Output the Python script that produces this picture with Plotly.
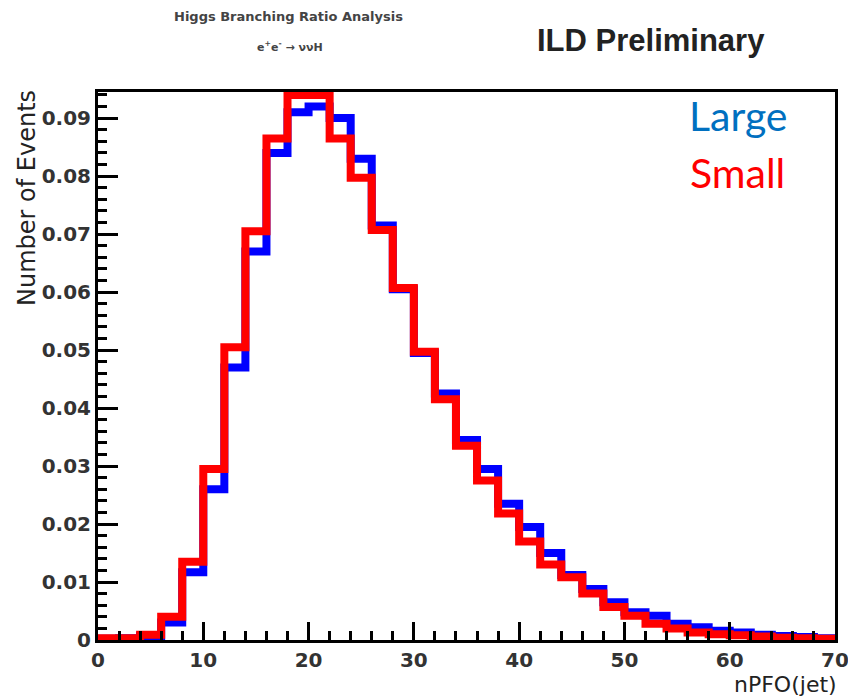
import plotly.graph_objects as go

# Bin edges of nPFO(jet) histogram (width 2)
bin_edges = [0, 2, 4, 6, 8, 10, 12, 14, 16, 18, 20, 22, 24, 26, 28, 30, 32, 34,
             36, 38, 40, 42, 44, 46, 48, 50, 52, 54, 56, 58, 60, 62, 64, 66, 68, 70]

large_vals = [0.0002, 0.0003, 0.0007, 0.0030, 0.0117, 0.0260, 0.0470, 0.0670,
              0.0840, 0.0910, 0.0920, 0.0900, 0.0830, 0.0715, 0.0605, 0.0495,
              0.0425, 0.0345, 0.0295, 0.0235, 0.0195, 0.0150, 0.0112, 0.0088,
              0.0065, 0.0048, 0.0042, 0.0028, 0.0022, 0.0016, 0.0013, 0.0009,
              0.0007, 0.0005, 0.0003]

small_vals = [0.0003, 0.0003, 0.0009, 0.0040, 0.0135, 0.0295, 0.0505, 0.0705,
              0.0865, 0.0940, 0.0940, 0.0865, 0.0797, 0.0707, 0.0607, 0.0497,
              0.0415, 0.0335, 0.0275, 0.0218, 0.0170, 0.0130, 0.0108, 0.0080,
              0.0057, 0.0042, 0.0028, 0.0020, 0.0013, 0.0010, 0.0008, 0.0006,
              0.0004, 0.0003, 0.0002]

x_ticks = [0, 10, 20, 30, 40, 50, 60, 70]
y_ticks = [0, 0.01, 0.02, 0.03, 0.04, 0.05, 0.06, 0.07, 0.08, 0.09]

ROOT_FONT = "DejaVu Sans"

fig = go.Figure()
fig.add_trace(go.Scatter(
    x=bin_edges, y=large_vals + [large_vals[-1]],
    mode="lines", line=dict(shape="hv", color="#0000FF", width=8),
    name="Large", showlegend=False))
fig.add_trace(go.Scatter(
    x=bin_edges, y=small_vals + [small_vals[-1]],
    mode="lines", line=dict(shape="hv", color="#FF0000", width=8),
    name="Small", showlegend=False))

axis_common = dict(
    showgrid=False, zeroline=False, automargin=False,
    showline=True, linecolor="black", linewidth=3, mirror=True,
    ticks="inside", tickcolor="black", tickwidth=3,
    ticklabeloverflow="allow",
    tickfont=dict(family=ROOT_FONT, size=20, color="#333333", weight="bold"),
)

fig.update_xaxes(
    range=[0, 70], tickmode="array", tickvals=x_ticks,
    ticktext=[str(v) for v in x_ticks], ticklen=18,
    minor=dict(dtick=2, ticks="inside", ticklen=9, tickcolor="black", tickwidth=3),
    **axis_common)
fig.update_yaxes(
    range=[0, 0.0945], tickmode="array", tickvals=y_ticks,
    ticktext=["0"] + [f"{v:.2f}" for v in y_ticks[1:]], ticklen=20,
    minor=dict(dtick=0.002, ticks="inside", ticklen=9, tickcolor="black", tickwidth=3),
    **axis_common)

PW = 737.0
PH = 548.0


def px(xp):
    return (xp - 98) / PW


def py(yp):
    return (640 - yp) / PH


annotations = [
    dict(text="Number of Events", xref="paper", yref="paper", x=px(27), y=py(88),
         xanchor="center", yanchor="top", textangle=-90, showarrow=False,
         font=dict(family=ROOT_FONT, size=24, color="#222222")),
    dict(text="nPFO(jet)", xref="paper", yref="paper", x=px(839), y=py(684),
         xanchor="right", yanchor="middle", showarrow=False,
         font=dict(family=ROOT_FONT, size=22, color="#222222")),
    dict(text="Higgs Branching Ratio Analysis", xref="paper", yref="paper",
         x=px(288), y=py(17), xanchor="center", yanchor="middle",
         showarrow=False, font=dict(family=ROOT_FONT, size=13, color="#444444", weight="bold")),
    dict(text="e<sup>+</sup>e<sup>-</sup> → ννH", xref="paper", yref="paper",
         x=px(290), y=py(47), xanchor="center", yanchor="middle",
         showarrow=False, font=dict(family=ROOT_FONT, size=11, color="#444444", weight="bold")),
    dict(text="ILD Preliminary", xref="paper", yref="paper",
         x=px(651), y=py(40), xanchor="center", yanchor="middle",
         showarrow=False, font=dict(family="Liberation Sans", size=31, color="#222222", weight="bold")),
    dict(text="Large", xref="paper", yref="paper",
         x=px(738), y=py(116), xanchor="center", yanchor="middle",
         showarrow=False, font=dict(family="Lato", size=41, color="#0070C0")),
    dict(text="Small", xref="paper", yref="paper",
         x=px(737), y=py(172), xanchor="center", yanchor="middle",
         showarrow=False, font=dict(family="Lato", size=41, color="#FF0000")),
]

fig.update_layout(
    width=848, height=696,
    margin=dict(l=98, r=13, t=92, b=56, autoexpand=False),
    paper_bgcolor="white", plot_bgcolor="white",
    annotations=annotations,
)

fig.write_html("out.html")
